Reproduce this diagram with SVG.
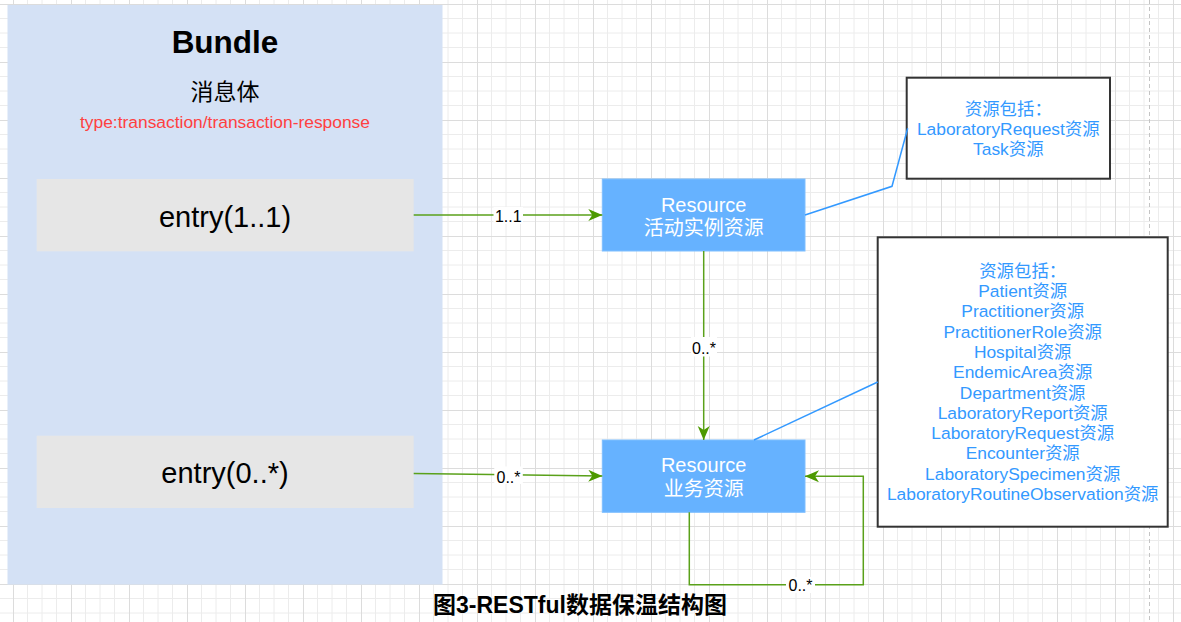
<svg xmlns="http://www.w3.org/2000/svg" width="1181" height="622" viewBox="0 0 1181 622">
<style>
text{font-family:"Liberation Sans","Noto Sans CJK SC",sans-serif;}
.entry{fill:#e6e6e6;}
.res{fill:#66b2ff;stroke:#7fbfff;stroke-width:1;}
.restxt{fill:#ffffff;font-size:20px;text-anchor:middle;}
.note{fill:#ffffff;stroke:#333333;stroke-width:2;}
.notetxt{fill:#3399ff;font-size:17.4px;text-anchor:middle;}
.edge{fill:none;stroke:#5aa11a;stroke-width:1.5;}
.link{fill:none;stroke:#3399ff;stroke-width:1.5;}
.lblbg{fill:#ffffff;}
.lbl{fill:#000000;font-size:16px;text-anchor:middle;}
</style>
<defs>
<pattern id="grid" patternUnits="userSpaceOnUse" x="13" y="4" width="58" height="58">
<path d="M14.5,0V58M29,0V58M43.5,0V58M0,14.5H58M0,29H58M0,43.5H58" stroke="#ececec" stroke-width="1" fill="none"/>
<path d="M0.5,0V58M0,0.5H58" stroke="#dcdcdc" stroke-width="1" fill="none"/>
</pattern>
<marker id="arr" markerUnits="userSpaceOnUse" markerWidth="15" markerHeight="13" refX="14" refY="6" orient="auto" viewBox="0 0 15 13">
<path d="M0,0 L14,6 L0,12 L4,6 Z" fill="#4d9900"/>
</marker>
</defs>
<rect x="0" y="0" width="1181" height="622" fill="#ffffff"/>
<rect x="0" y="0" width="1181" height="622" fill="url(#grid)"/>
<line x1="1149.5" y1="0" x2="1149.5" y2="622" stroke="#c4c4c4" stroke-width="1" stroke-dasharray="4,3"/>

<g id="bundle">
<rect x="7.5" y="5" width="435" height="579.5" fill="#d4e1f5"/>
<text x="225" y="53" font-size="31.5" font-weight="bold" text-anchor="middle" fill="#000">Bundle</text>
<text x="225" y="100" font-size="23" text-anchor="middle" fill="#000">消息体</text>
<text x="225" y="128" font-size="17.4" text-anchor="middle" fill="#ff4040">type:transaction/transaction-response</text>
</g>

<g id="entry1">
<rect class="entry" x="36.7" y="179" width="377" height="72.3"/>
<text x="225" y="226.5" font-size="29" text-anchor="middle" fill="#000">entry(1..1)</text>
</g>

<g id="entry2">
<rect class="entry" x="36.7" y="435.7" width="377" height="72.3"/>
<text x="225" y="482.5" font-size="29" text-anchor="middle" fill="#000">entry(0..*)</text>
</g>

<g id="resource1">
<rect class="res" x="602.3" y="179" width="202.7" height="72"/>
<text class="restxt" x="703.7" y="211.5">Resource</text>
<text class="restxt" x="703.7" y="235">活动实例资源</text>
</g>

<g id="resource2">
<rect class="res" x="602.3" y="440" width="202.7" height="72.3"/>
<text class="restxt" x="703.7" y="472.3">Resource</text>
<text class="restxt" x="703.7" y="496">业务资源</text>
</g>

<g id="note1">
<rect class="note" x="906.7" y="77.7" width="203.3" height="101"/>
<text class="notetxt" x="1008.3" y="115">资源包括：</text>
<text class="notetxt" x="1008.3" y="135">LaboratoryRequest资源</text>
<text class="notetxt" x="1008.3" y="155">Task资源</text>
</g>

<g id="note2">
<rect class="note" x="877.7" y="237.3" width="290" height="289.4"/>
<text class="notetxt" x="1022.7" y="276.7">资源包括：</text>
<text class="notetxt" x="1022.7" y="297">Patient资源</text>
<text class="notetxt" x="1022.7" y="317.3">Practitioner资源</text>
<text class="notetxt" x="1022.7" y="337.6">PractitionerRole资源</text>
<text class="notetxt" x="1022.7" y="357.9">Hospital资源</text>
<text class="notetxt" x="1022.7" y="378.2">EndemicArea资源</text>
<text class="notetxt" x="1022.7" y="398.5">Department资源</text>
<text class="notetxt" x="1022.7" y="418.8">LaboratoryReport资源</text>
<text class="notetxt" x="1022.7" y="439.1">LaboratoryRequest资源</text>
<text class="notetxt" x="1022.7" y="459.4">Encounter资源</text>
<text class="notetxt" x="1022.7" y="479.7">LaboratorySpecimen资源</text>
<text class="notetxt" x="1022.7" y="500">LaboratoryRoutineObservation资源</text>
</g>

<g id="connectors">
<path class="edge" d="M413.7,215 H602.3" marker-end="url(#arr)"/>
<path class="edge" d="M413.7,473.4 L602.3,476" marker-end="url(#arr)"/>
<path class="edge" d="M703.7,251 V440" marker-end="url(#arr)"/>
<path class="edge" d="M689.3,512.3 V584.7 H863.3 V476.3 H805" marker-end="url(#arr)"/>
<path class="link" d="M805,215 L892,186.3 L907.7,128.3"/>
<path class="link" d="M754,440 L877.7,382"/>
<rect class="lblbg" x="493.5" y="207" width="29.5" height="17"/>
<text class="lbl" x="508.3" y="221.5">1..1</text>
<rect class="lblbg" x="494.3" y="466.5" width="28.5" height="17.5"/>
<text class="lbl" x="508.5" y="483">0..*</text>
<rect class="lblbg" x="691" y="337" width="26" height="19.5"/>
<text class="lbl" x="704" y="353.5">0..*</text>
<rect class="lblbg" x="786" y="577" width="29" height="16"/>
<text class="lbl" x="800.5" y="591">0..*</text>
</g>

<g id="caption">
<text x="580" y="612.5" font-size="23" font-weight="bold" text-anchor="middle" fill="#000">图3-RESTful数据保温结构图</text>
</g>
</svg>
